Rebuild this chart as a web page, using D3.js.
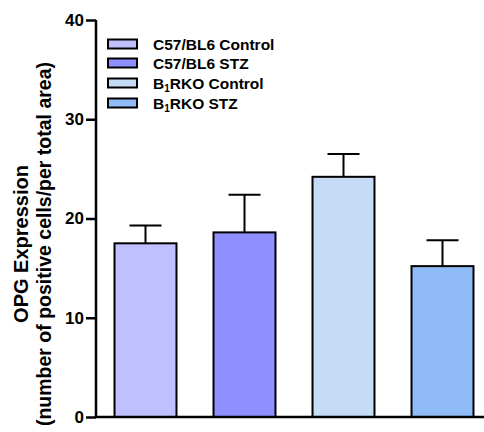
<!DOCTYPE html>
<meta charset="utf-8">
<style>
body { margin: 0; background: #fff; }
text { font-family: "Liberation Sans", Arial, sans-serif; }
</style>
<svg width="484" height="432"></svg>
<script src="https://d3js.org/d3.v7.min.js"></script>
<script>
var groups = ["C57/BL6 Control", "C57/BL6 STZ", "B1RKO Control", "B1RKO STZ"];
var means = [17.5, 18.6, 24.2, 15.2];
var errors = [1.8, 3.8, 2.3, 2.6];
var colors = ["#c0c0ff", "#8f8fff", "#c6dcf6", "#8fbcf6"];
var yTicks = [0, 10, 20, 30, 40];

var svg = d3.select("svg");

var y = d3.scaleLinear().domain([0, 40]).range([417, 20]);
var x = d3.scaleBand().domain(groups).range([96, 492])
    .paddingInner(0.374).paddingOuter(0.187);

// bars
svg.append("g").selectAll("rect")
    .data(groups)
    .enter().append("rect")
    .attr("x", function(d) { return x(d); })
    .attr("y", function(d, i) { return y(means[i]); })
    .attr("width", x.bandwidth())
    .attr("height", function(d, i) { return y(0) - y(means[i]); })
    .attr("fill", function(d, i) { return colors[i]; })
    .attr("stroke", "#000")
    .attr("stroke-width", 2);

// error bars (upper only)
var eb = svg.append("g").attr("stroke", "#000").attr("stroke-width", 2);
groups.forEach(function(d, i) {
  var cx = x(d) + x.bandwidth() / 2;
  eb.append("line").attr("x1", cx).attr("x2", cx)
    .attr("y1", y(means[i])).attr("y2", y(means[i] + errors[i]));
  eb.append("line").attr("x1", cx - 16).attr("x2", cx + 16)
    .attr("y1", y(means[i] + errors[i])).attr("y2", y(means[i] + errors[i]));
});

// axes
var yAxis = svg.append("g")
    .attr("transform", "translate(96,0)")
    .call(d3.axisLeft(y).tickValues(yTicks).tickSize(10).tickPadding(2));
yAxis.select(".domain").attr("stroke-width", 2.5).attr("d", "M0," + y(40) + "V" + (y(0) + 1));
yAxis.selectAll(".tick line").attr("stroke-width", 2.5);
yAxis.selectAll(".tick text")
    .attr("font-size", 17).attr("font-weight", "bold").attr("fill", "#000")
    .style("font-family", "'Liberation Sans', Arial, sans-serif");

svg.append("line")
    .attr("x1", 95).attr("x2", 484)
    .attr("y1", y(0)).attr("y2", y(0))
    .attr("stroke", "#000").attr("stroke-width", 2.5);

// y title
var title = svg.append("text")
    .attr("transform", "translate(0,244) rotate(-90)")
    .attr("text-anchor", "middle")
    .attr("font-weight", "bold")
    .attr("fill", "#000");
title.append("tspan").attr("x", 0).attr("y", 28)
    .attr("font-size", 20).text("OPG Expression");
title.append("tspan").attr("x", 0).attr("y", 51)
    .attr("font-size", 19.5).text("(number of positive cells/per total area)");

// legend
var legend = svg.append("g");
var rowY = [44, 63, 83, 103];
groups.forEach(function(d, i) {
  legend.append("rect")
    .attr("x", 108).attr("y", rowY[i] - 4.5)
    .attr("width", 29).attr("height", 9)
    .attr("fill", colors[i]).attr("stroke", "#000").attr("stroke-width", 2);
  var t = legend.append("text")
    .attr("x", 153).attr("y", rowY[i] + 5.5)
    .attr("font-size", 15.5).attr("font-weight", "bold").attr("fill", "#000");
  if (d.indexOf("B1") === 0) {
    t.append("tspan").text("B");
    t.append("tspan").attr("font-size", 10).attr("dy", 3).text("1");
    t.append("tspan").attr("dy", -3).text(d.slice(2));
  } else {
    t.text(d);
  }
});
</script>
